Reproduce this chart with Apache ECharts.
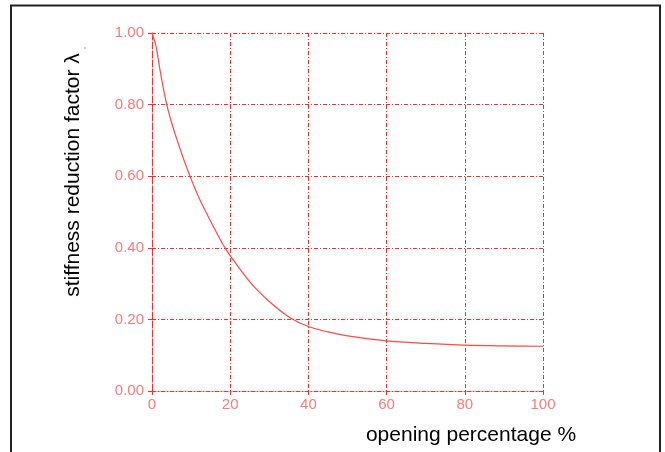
<!DOCTYPE html>
<html>
<head>
<meta charset="utf-8">
<script src="https://cdn.jsdelivr.net/npm/echarts@6/dist/echarts.min.js"></script>
<style>
  html, body { margin: 0; padding: 0; background: #fff; }
  #chart { width: 665px; height: 452px; }
</style>
</head>
<body>
<div id="chart"></div>
<script>
// Opening percentage (%) and the matching stiffness reduction factor λ
const openingPct = [0, 1, 2, 3, 4, 5, 6, 8, 10, 12, 15, 18, 20, 25, 30, 35, 40, 45, 50, 60, 70, 80, 90, 100];
const lambda = [1.00, 0.965, 0.90, 0.84, 0.79, 0.75, 0.715, 0.65, 0.592, 0.54, 0.474, 0.412, 0.378, 0.305, 0.25, 0.207, 0.180, 0.165, 0.154, 0.140, 0.133, 0.128, 0.126, 0.125];

const xTicks = [0, 20, 40, 60, 80, 100];
const yTicks = [0, 0.2, 0.4, 0.6, 0.8, 1.0];

const xTitle = 'opening percentage %';
const yTitle = 'stiffness reduction factor λ';

const red = '#ff2a2a';
const labelRed = '#ff7a7a';
const gridDash = [4, 2, 1, 2];

const chart = echarts.init(document.getElementById('chart'), null, { renderer: 'canvas' });

const axisCommon = {
  axisLine: { show: true, lineStyle: { color: red, width: 1, type: gridDash } },
  axisTick: { show: true, length: 4, lineStyle: { color: red, width: 1 } },
  splitLine: { show: true, lineStyle: { color: red, width: 1, type: gridDash } },
  axisLabel: { color: labelRed, fontFamily: 'Liberation Sans', fontSize: 15 }
};

chart.setOption({
  animation: false,
  backgroundColor: '#fff',
  grid: { left: 152, right: 122, top: 33, bottom: 61, containLabel: false },
  xAxis: Object.assign({}, axisCommon, {
    type: 'value',
    min: xTicks[0],
    max: xTicks[xTicks.length - 1],
    interval: 20,
    axisLabel: Object.assign({}, axisCommon.axisLabel, { margin: 6 })
  }),
  yAxis: Object.assign({}, axisCommon, {
    type: 'value',
    min: yTicks[0],
    max: yTicks[yTicks.length - 1],
    interval: 0.2,
    axisLabel: Object.assign({}, axisCommon.axisLabel, {
      margin: 8,
      formatter: v => v.toFixed(2)
    })
  }),
  series: [{
    type: 'line',
    data: openingPct.map((x, i) => [x, lambda[i]]),
    smooth: 0.3,
    showSymbol: false,
    lineStyle: { color: '#ff4a4a', width: 1.2 }
  }],
  graphic: [
    {
      type: 'rect',
      shape: { x: 11, y: 5.5, width: 649, height: 470 },
      style: { fill: 'none', stroke: '#222', lineWidth: 2 },
      silent: true
    },
    {
      type: 'text',
      x: 73, y: 175,
      rotation: Math.PI / 2,
      style: {
        text: yTitle,
        fill: '#000',
        font: '21px "Liberation Sans"',
        align: 'center',
        verticalAlign: 'middle'
      }
    },
    {
      type: 'text',
      x: 471, y: 435,
      style: {
        text: xTitle,
        fill: '#000',
        font: '21px "Liberation Sans"',
        align: 'center',
        verticalAlign: 'middle'
      }
    },
    {
      type: 'circle',
      shape: { cx: 85, cy: 48, r: 0.8 },
      style: { fill: '#ff6060' },
      silent: true
    }
  ]
});
</script>
</body>
</html>
